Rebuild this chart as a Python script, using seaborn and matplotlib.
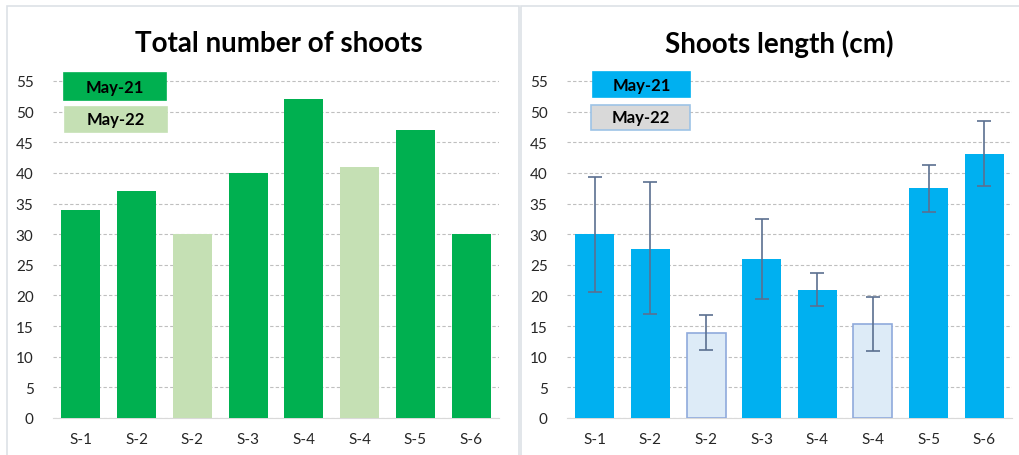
import matplotlib.pyplot as plt
import numpy as np
import pandas as pd
import seaborn as sns
from matplotlib.patches import Rectangle

labels = ["S-1", "S-2", "S-2", "S-3", "S-4", "S-4", "S-5", "S-6"]
season = ["May-21", "May-21", "May-22", "May-21", "May-21", "May-22", "May-21", "May-21"]
shoot_count = [34, 37, 30, 40, 52, 41, 47, 30]
shoot_length = [30.0, 27.6, 13.9, 25.9, 20.9, 15.4, 37.5, 43.1]
length_low = [20.5, 16.9, 11.1, 19.4, 18.3, 10.9, 33.7, 37.8]
length_high = [39.3, 38.5, 16.8, 32.5, 23.6, 19.7, 41.3, 48.5]
y_ticks = list(range(0, 60, 5))

W, H = 1020, 456
GRID = "#BFBFBF"
TEXT = "#262626"


def px(x0, y0, x1, y1):
    """Pixel box (top-left origin) -> figure fraction rect."""
    return [x0 / W, 1 - y1 / H, (x1 - x0) / W, (y1 - y0) / H]


def draw_panel(fig, rect, values, fill, edge, title, title_x):
    ax = fig.add_axes(rect)
    df = pd.DataFrame({"pos": range(len(values)), "value": values, "season": season})
    sns.barplot(data=df, x="pos", y="value", hue="pos", palette=fill, legend=False,
                saturation=1, width=0.7, ax=ax, zorder=3)
    for bar, ec in zip(ax.patches, edge):
        if ec is None:
            bar.set_linewidth(0)
        else:
            bar.set_edgecolor(ec)
            bar.set_linewidth(1.2)
    ax.set_xlim(-0.5, len(values) - 0.5)
    ax.set_ylim(0, 58)
    ax.set_yticks(y_ticks)
    ax.set_xticks(range(len(values)))
    ax.set_xticklabels(labels)
    ax.set_xlabel("")
    ax.set_ylabel("")
    ax.grid(axis="y", color=GRID, linestyle=(0, (3, 2)), linewidth=0.8, zorder=0)
    for s in ["top", "right", "left"]:
        ax.spines[s].set_visible(False)
    ax.spines["bottom"].set_color("#D9D9D9")
    ax.tick_params(axis="both", length=0, labelsize=11, colors=TEXT)
    ax.tick_params(axis="y", pad=14)
    ax.tick_params(axis="x", pad=10)
    fig.text(title_x / W, 1 - 44 / H, title, ha="center", va="center",
             fontsize=20, fontweight="bold", color="black")
    return ax


def legend_box(fig, box, face, edge, text):
    fig.patches.append(Rectangle((box[0], box[1]), box[2], box[3], transform=fig.transFigure,
                                 facecolor=face, edgecolor=edge, linewidth=1.2, zorder=5))
    fig.text(box[0] + box[2] / 2, box[1] + box[3] / 2, text, ha="center", va="center",
             fontsize=12, fontweight="bold", color="black", zorder=6)


sns.set_style("white")
plt.rcParams["font.family"] = ["Lato", "DejaVu Sans"]

fig = plt.figure(figsize=(W / 100, H / 100), dpi=100)

# panel frames
fig.patches.append(Rectangle(px(7, 7, 519, 470)[:2], *px(7, 7, 519, 470)[2:],
                             transform=fig.transFigure, fill=False, edgecolor="#DDE1E6", lw=1.2))
fig.patches.append(Rectangle(px(521, 7, 1030, 470)[:2], *px(521, 7, 1030, 470)[2:],
                             transform=fig.transFigure, fill=False, edgecolor="#DDE1E6", lw=1.2))

green = ["#00B050" if s == "May-21" else "#C5E0B4" for s in season]
draw_panel(fig, [53 / W, 37 / H, 446 / W, 355.4 / H], shoot_count, green,
           [None] * len(season), "Total number of shoots", 279)

blue = ["#00B0F0" if s == "May-21" else "#DDEBF7" for s in season]
blue_edge = [None if s == "May-21" else "#8FAADC" for s in season]
ax2 = draw_panel(fig, [567 / W, 37 / H, 445 / W, 355.4 / H], shoot_length, blue, blue_edge,
                 "Shoots length (cm)", 779)
err = [np.array(shoot_length) - np.array(length_low),
       np.array(length_high) - np.array(shoot_length)]
ax2.errorbar(range(len(shoot_length)), shoot_length, yerr=err, fmt="none",
             ecolor="#5B7090", elinewidth=1.2, capsize=5, capthick=1.2, zorder=4)

legend_box(fig, px(64, 74, 166, 101), "#00B050", "#00B050", "May-21")
legend_box(fig, px(65, 108, 167, 133), "#C5E0B4", "#C5E0B4", "May-22")
legend_box(fig, px(593, 73, 690, 98), "#00B0F0", "#00B0F0", "May-21")
legend_box(fig, px(591, 106, 690, 131), "#D9D9D9", "#9DC3E6", "May-22")

fig.savefig("out.png", dpi=100)
